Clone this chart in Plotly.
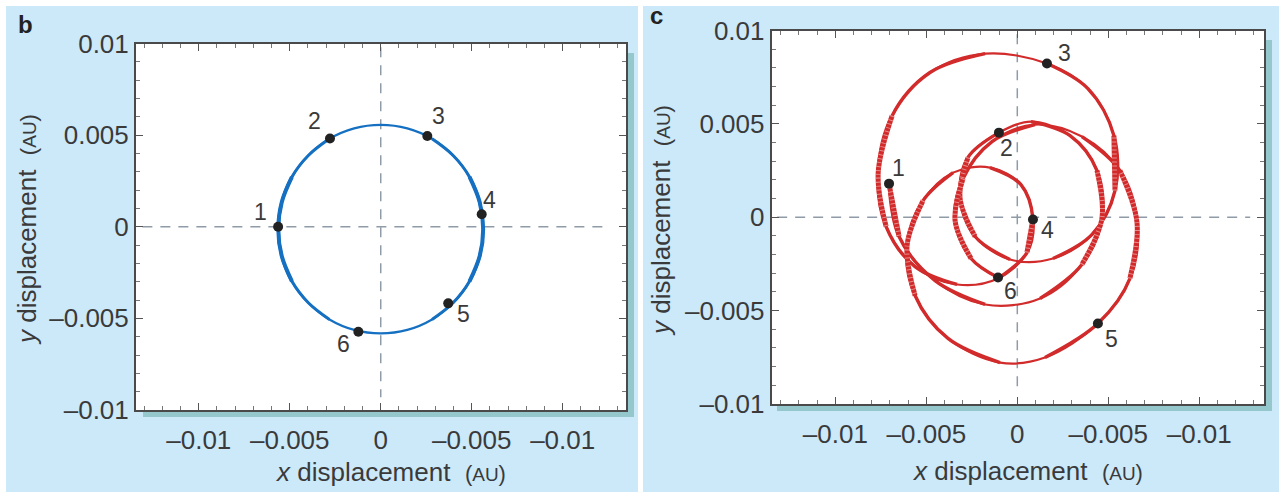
import plotly.graph_objects as go

W, H = 1279, 492

# ---------------- data ----------------
# panel b: Sun's displacement due to Jupiter alone (AU)
b_x = [0.00000, -0.00146, -0.00282, -0.00398, -0.00488, -0.00544, -0.00563, -0.00544,
       -0.00488, -0.00398, -0.00282, -0.00146, 0.00000, 0.00146, 0.00282, 0.00398,
       0.00488, 0.00544, 0.00563, 0.00544, 0.00488, 0.00398, 0.00282, 0.00146, 0.00000]
b_y = [0.00556, 0.00537, 0.00480, 0.00389, 0.00272, 0.00134, -0.00013, -0.00160,
       -0.00298, -0.00415, -0.00506, -0.00563, -0.00582, -0.00563, -0.00506, -0.00415,
       -0.00298, -0.00160, -0.00013, 0.00134, 0.00272, 0.00389, 0.00480, 0.00537, 0.00556]
b_pts_x = [-0.00564, -0.00279, 0.00256, 0.00555, 0.00371, -0.00123]
b_pts_y = [0.00000, 0.00482, 0.00495, 0.00068, -0.00418, -0.00573]

# panel c: displacement due to all planets (AU), traced along the path from point 1 to 6
c_x = [-0.00705, -0.00650, -0.00452, -0.00177, 0.00125, 0.00355, 0.00465, 0.00438,
       0.00290, 0.00075, -0.00101, -0.00271, -0.00315, -0.00232, -0.00040, 0.00196,
       0.00410, 0.00537, 0.00531, 0.00388, 0.00163, -0.00177, -0.00480, -0.00688,
       -0.00765, -0.00721, -0.00562, -0.00331, -0.00106, 0.00053, 0.00086, 0.00020,
       -0.00150, -0.00353, -0.00518, -0.00606, -0.00562, -0.00381, -0.00095, 0.00152,
       0.00443, 0.00619, 0.00658, 0.00564, 0.00355, 0.00097, -0.00139, -0.00298,
       -0.00342, -0.00254, -0.00106]
c_y = [0.00180, -0.00103, -0.00339, -0.00467, -0.00435, -0.00253, -0.00007, 0.00250,
       0.00437, 0.00512, 0.00453, 0.00320, 0.00105, -0.00103, -0.00226, -0.00221,
       -0.00093, 0.00143, 0.00437, 0.00689, 0.00823, 0.00876, 0.00775, 0.00544,
       0.00234, -0.00050, -0.00264, -0.00360, -0.00328, -0.00189, -0.00012, 0.00175,
       0.00266, 0.00239, 0.00089, -0.00152, -0.00419, -0.00649, -0.00778, -0.00751,
       -0.00569, -0.00328, -0.00028, 0.00250, 0.00432, 0.00496, 0.00405, 0.00207,
       -0.00018, -0.00221, -0.00323]
c_pts_x = [-0.00705, -0.00101, 0.00163, 0.00086, 0.00443, -0.00106]
c_pts_y = [0.00180, 0.00453, 0.00823, -0.00012, -0.00569, -0.00323]

point_labels = ["1", "2", "3", "4", "5", "6"]

x_tickvals = [-0.01, -0.005, 0, 0.005, 0.01]
x_ticktext = ["\u20130.01", "\u20130.005", "0", "\u20130.005", "\u20130.01"]
y_tickvals = [-0.01, -0.005, 0, 0.005, 0.01]
y_ticktext = ["\u20130.01", "\u20130.005", "0", "0.005", "0.01"]

# ---------------- style ----------------
FONT = "Liberation Sans, Arial, Helvetica, sans-serif"
PANEL_BG = "#cce9fa"
SHADOW = "#94c8cd"
BLUE = "#1570c2"
RED = "#d22b2b"
DOT = "#222222"
TXT = "#3a3a3a"
DASH = "#8f9ba6"

b_label_off = [(-18, 15), (-15, 17), (11, 20), (8, 14), (15, -11), (-15, -12)]
c_label_off = [(9, 16), (8, -15), (18, 11), (15, -11), (14, -15), (12, -13)]


def px(xp):
    return xp / W


def py(yp):
    return 1 - yp / H


def vertical_runs(xs, ys, ratio):
    n = len(xs)
    flags = []
    for i in range(n):
        a, b = max(i - 1, 0), min(i + 1, n - 1)
        dx, dy = xs[b] - xs[a], ys[b] - ys[a]
        flags.append(abs(dy) > ratio * abs(dx))
    runs, i = [], 0
    while i < n:
        if flags[i]:
            j = i
            while j + 1 < n and flags[j + 1]:
                j += 1
            runs.append((i, j))
            i = j + 1
        else:
            i += 1
    return runs


fig = go.Figure()


def add_curve(xs, ys, color, xa, ya, base_w, mid_w, thick_w, hatch):
    fig.add_trace(go.Scatter(x=xs, y=ys, mode="lines", xaxis=xa, yaxis=ya,
                             line=dict(color=color, width=base_w, shape="spline"),
                             hoverinfo="skip", showlegend=False))
    n = len(xs)
    for (i, j) in vertical_runs(xs, ys, 0.6):
        a, b = max(i - 1, 0), min(j + 1, n - 1)
        fig.add_trace(go.Scatter(x=xs[a:b + 1], y=ys[a:b + 1], mode="lines", xaxis=xa, yaxis=ya,
                                 line=dict(color=color, width=mid_w, shape="spline"),
                                 hoverinfo="skip", showlegend=False))
    for (i, j) in vertical_runs(xs, ys, 1.2):
        if j - i < 1:
            a, b = max(i - 1, 0), min(j + 1, n - 1)
        else:
            a, b = i, j
        fig.add_trace(go.Scatter(x=xs[a:b + 1], y=ys[a:b + 1], mode="lines", xaxis=xa, yaxis=ya,
                                 line=dict(color=color, width=thick_w, shape="spline"),
                                 hoverinfo="skip", showlegend=False))
        if hatch:
            fig.add_trace(go.Scatter(x=xs[a:b + 1], y=ys[a:b + 1], mode="lines", xaxis=xa, yaxis=ya,
                                     line=dict(color="white", width=thick_w, shape="spline",
                                               dash="1px,3px"),
                                     opacity=0.45, hoverinfo="skip", showlegend=False))


add_curve(b_x, b_y, BLUE, "x", "y", 2.2, 3.0, 4.0, False)
add_curve(c_x, c_y, RED, "x2", "y2", 2.2, 3.4, 5.0, True)

for xs, ys, xa, ya in [(b_pts_x, b_pts_y, "x", "y"), (c_pts_x, c_pts_y, "x2", "y2")]:
    fig.add_trace(go.Scatter(x=xs, y=ys, mode="markers", xaxis=xa, yaxis=ya,
                             marker=dict(color=DOT, size=10, line=dict(width=0)),
                             hoverinfo="skip", showlegend=False))

annotations = []
for xs, ys, offs, xa, ya in [(b_pts_x, b_pts_y, b_label_off, "x", "y"),
                             (c_pts_x, c_pts_y, c_label_off, "x2", "y2")]:
    for k, lab in enumerate(point_labels):
        annotations.append(dict(x=xs[k], y=ys[k], xref=xa, yref=ya, text=lab, showarrow=False,
                                xshift=offs[k][0], yshift=offs[k][1],
                                xanchor="center", yanchor="middle",
                                font=dict(family=FONT, size=23, color=TXT)))

xt = ("<i>x</i> displacement &nbsp;<span style='font-size:22px'>(</span>"
      "<span style='font-size:19px'>AU</span><span style='font-size:22px'>)</span>")
yt = ("<i>y</i> displacement &nbsp;<span style='font-size:22px'>(</span>"
      "<span style='font-size:19px'>AU</span><span style='font-size:22px'>)</span>")
for (xc, yc, txt, ang) in [(390, 472, xt, 0), (1027, 471, xt, 0),
                           (27, 230, yt, -90), (661, 221, yt, -90)]:
    annotations.append(dict(x=px(xc), y=py(yc), xref="paper", yref="paper", text=txt,
                            showarrow=False, textangle=ang, xanchor="center", yanchor="middle",
                            font=dict(family=FONT, size=26, color=TXT)))
annotations.append(dict(x=px(25), y=py(25), xref="paper", yref="paper", text="<b>b</b>",
                        showarrow=False, xanchor="center", yanchor="middle",
                        font=dict(family=FONT, size=24, color="#222")))
annotations.append(dict(x=px(656), y=py(15), xref="paper", yref="paper", text="<b>c</b>",
                        showarrow=False, xanchor="center", yanchor="middle",
                        font=dict(family=FONT, size=24, color="#222")))

shapes = []
# panel backgrounds
shapes.append(dict(type="rect", xref="paper", yref="paper", x0=px(6), x1=px(638), y0=py(492), y1=py(6),
                   fillcolor=PANEL_BG, line=dict(width=0), layer="below"))
shapes.append(dict(type="rect", xref="paper", yref="paper", x0=px(643), x1=px(1279), y0=py(492), y1=py(6),
                   fillcolor=PANEL_BG, line=dict(width=0), layer="below"))
# shadows
shapes.append(dict(type="rect", xref="paper", yref="paper", x0=px(143), x1=px(634), y0=py(417), y1=py(53),
                   fillcolor=SHADOW, line=dict(width=0), layer="below"))
shapes.append(dict(type="rect", xref="paper", yref="paper", x0=px(777), x1=px(1272), y0=py(411), y1=py(40),
                   fillcolor=SHADOW, line=dict(width=0), layer="below"))
# white plot areas
B_L, B_R, B_T, B_B = 136, 626, 43.5, 410
C_L, C_R, C_T, C_B = 771.7, 1264, 30.5, 404
shapes.append(dict(type="rect", xref="paper", yref="paper", x0=px(B_L), x1=px(B_R), y0=py(B_B), y1=py(B_T),
                   fillcolor="white", line=dict(width=0), layer="below"))
shapes.append(dict(type="rect", xref="paper", yref="paper", x0=px(C_L), x1=px(C_R), y0=py(C_B), y1=py(C_T),
                   fillcolor="white", line=dict(width=0), layer="below"))
# dashed zero lines
for xa, ya, hx, vy in [("x", "y", (-0.0131, 0.0126), (0.0098, -0.0093)),
                       ("x2", "y2", (-0.0132, 0.0128), (0.0098, -0.0094))]:
    shapes.append(dict(type="line", xref=xa, yref=ya, x0=hx[0], x1=hx[1], y0=0, y1=0,
                       line=dict(color=DASH, width=1.5, dash="10px,8px"), layer="below"))
    shapes.append(dict(type="line", xref=xa, yref=ya, x0=0, x1=0, y0=vy[0], y1=vy[1],
                       line=dict(color=DASH, width=1.5, dash="10px,8px"), layer="below"))

minor_vals = [k / 1000 for k in range(-13, 14)]


def axis(domain, rng, tv, tt, anchor, standoff):
    return dict(domain=domain, range=rng, anchor=anchor, tickmode="array", tickvals=tv, ticktext=tt,
                ticks="inside", ticklen=7, tickwidth=1.2, tickcolor="#555",
                minor=dict(tickmode="array", tickvals=minor_vals, ticks="inside", ticklen=4,
                           tickwidth=1, tickcolor="#777", showgrid=False),
                showline=True, linecolor="#4a4a4a", linewidth=2, mirror="allticks",
                showgrid=False, zeroline=False, ticklabelstandoff=standoff,
                tickfont=dict(family=FONT, size=26, color=TXT), fixedrange=True,
                automargin=False)


fig.update_layout(
    width=W, height=H, autosize=False,
    margin=dict(l=0, r=0, t=0, b=0, pad=0),
    paper_bgcolor="white", plot_bgcolor="rgba(0,0,0,0)",
    xaxis=axis([px(B_L), px(B_R)], [-0.01345, 0.01348], x_tickvals, x_ticktext, "y", 6),
    yaxis=axis([py(B_B), py(B_T)], [-0.01, 0.01], y_tickvals, y_ticktext, "x", 0),
    xaxis2=axis([px(C_L), px(C_R)], [-0.0135, 0.01356], x_tickvals, x_ticktext, "y2", 6),
    yaxis2=axis([py(C_B), py(C_T)], [-0.01, 0.01], y_tickvals, y_ticktext, "x2", 0),
    annotations=annotations, shapes=shapes, showlegend=False,
)

page_fix = ("document.documentElement.style.margin='0';document.body.style.margin='0';"
            "document.body.style.padding='0';document.documentElement.style.overflow='hidden';"
            "document.body.style.overflow='hidden';")
fig.write_html("out.html", config={"responsive": False, "displayModeBar": False},
               post_script=page_fix)
